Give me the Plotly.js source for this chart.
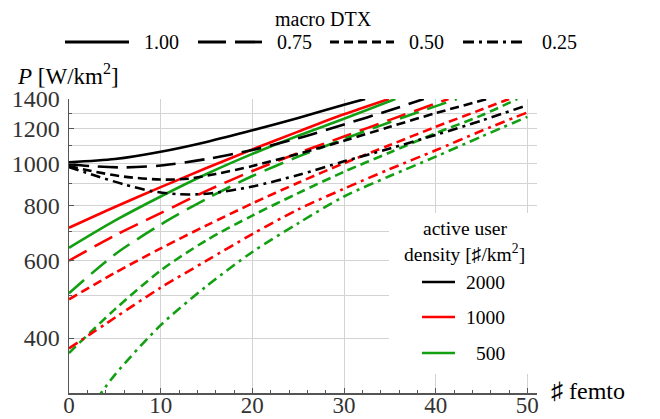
<!DOCTYPE html>
<html>
<head>
<meta charset="utf-8">
<script src="https://cdn.plot.ly/plotly-3.0.1.min.js"></script>
<style>html,body{margin:0;padding:0;background:#fff;}#chart{width:660px;height:419px;}</style>
</head>
<body>
<div id="chart"></div>
<script>
// ---- data ----
// macro DTX = 1.00 (solid)
const x_100_2000 = [0, 5, 10, 15, 20, 25, 30, 32.3];
const y_100_2000 = [1005, 1022, 1062, 1118, 1188, 1268, 1358, 1400];
const x_100_1000 = [0, 5, 10, 15, 20, 25, 30, 34.9];
const y_100_1000 = [713, 795, 882, 975, 1075, 1180, 1292, 1400];
const x_100_500  = [0, 5, 10, 15, 20, 25, 30, 35.6];
const y_100_500  = [642, 740, 840, 945, 1050, 1155, 1262, 1400];
// macro DTX = 0.75 (long dash)
const x_075_2000 = [0, 3, 6, 10, 15, 20, 25, 30, 35, 38.7];
const y_075_2000 = [995, 983, 978, 988, 1022, 1072, 1140, 1225, 1320, 1400];
const x_075_1000 = [0, 5, 10, 15, 20, 25, 30, 35, 41.4];
const y_075_1000 = [600, 685, 770, 865, 960, 1055, 1150, 1255, 1400];
const x_075_500  = [0, 5, 10, 15, 20, 25, 30, 35, 42.3];
const y_075_500  = [506, 620, 725, 830, 935, 1035, 1135, 1240, 1400];
// macro DTX = 0.50 (dash)
const x_050_2000 = [0, 3, 6, 10, 13, 16, 20, 25, 30, 35, 40, 45.6];
const y_050_2000 = [985, 955, 932, 918, 922, 945, 985, 1050, 1125, 1210, 1300, 1400];
const x_050_1000 = [0, 5, 10, 15, 20, 25, 30, 35, 40, 45, 48];
const y_050_1000 = [490, 563, 640, 722, 810, 903, 1000, 1100, 1210, 1325, 1400];
const x_050_500  = [0, 5, 10, 15, 20, 25, 30, 35, 40, 45, 48.9];
const y_050_500  = [370, 465, 570, 668, 760, 855, 956, 1058, 1170, 1285, 1400];
// macro DTX = 0.25 (dash-dot)
const x_025_2000 = [0, 3, 6, 9, 12, 15, 20, 25, 30, 35, 40, 45, 50];
const y_025_2000 = [980, 935, 895, 864, 850, 852, 885, 940, 1010, 1080, 1160, 1250, 1356];
const x_025_1000 = [0, 5, 10, 15, 20, 25, 30, 35, 40, 45, 50];
const y_025_1000 = [379, 445, 521, 600, 690, 785, 875, 970, 1070, 1185, 1305];
const x_025_500  = [3, 5, 10, 15, 20, 25, 30, 35, 40, 45, 50];
const y_025_500  = [290, 330, 428, 525, 628, 730, 840, 935, 1035, 1150, 1275];

const dtxLabels = ['1.00', '0.75', '0.50', '0.25'];
const densityLabels = ['2000', '1000', '500'];
const yTickVals = [400, 600, 800, 1000, 1200, 1400];
const yTickText = ['400', '600', '800', '1000', '1200', '1400'];
const yMinorVals = [300, 500, 700, 900, 1100, 1300];

// ---- styles ----
const FONT = '"Liberation Serif", "Times New Roman", Times, serif';
const COLORS = {'2000': '#000000', '1000': '#ff0000', '500': '#12a012'};
const DASHES = {'1.00': 'solid', '0.75': '20px,9px', '0.50': '9px,5px', '0.25': '10px,5px,3px,5px'};

const series = [
  ['1.00', '2000', x_100_2000, y_100_2000], ['1.00', '1000', x_100_1000, y_100_1000], ['1.00', '500', x_100_500, y_100_500],
  ['0.75', '2000', x_075_2000, y_075_2000], ['0.75', '1000', x_075_1000, y_075_1000], ['0.75', '500', x_075_500, y_075_500],
  ['0.50', '2000', x_050_2000, y_050_2000], ['0.50', '1000', x_050_1000, y_050_1000], ['0.50', '500', x_050_500, y_050_500],
  ['0.25', '2000', x_025_2000, y_025_2000], ['0.25', '1000', x_025_1000, y_025_1000], ['0.25', '500', x_025_500, y_025_500]
];

const traces = series.map(([dtx, dens, xs, ys]) => ({
  type: 'scatter', mode: 'lines', x: xs, y: ys,
  name: 'DTX ' + dtx + ', ' + dens,
  line: {color: COLORS[dens], width: 2.6, dash: DASHES[dtx], shape: 'spline', smoothing: 0.8},
  showlegend: false, hoverinfo: 'skip'
}));

// pixel -> paper helpers for legend layout
const L = 69, R = 537, T = 99, B = 393;
const PX = px => (px - L) / (R - L);
const PY = py => (B - py) / (B - T);

const shapes = [];
const annotations = [];

// top legend: macro DTX
annotations.push({xref: 'paper', yref: 'paper', x: PX(323.5), y: PY(19), text: 'macro DTX', showarrow: false,
  xanchor: 'center', yanchor: 'middle', font: {family: FONT, size: 20, color: '#000'}});
const dtxSampleX = [65, 198, 330, 463];
const dtxSampleDash = ['solid', '28px,9px', '9px,5px', '11px,5px,3px,5px'];
dtxLabels.forEach((lab, i) => {
  const x0 = dtxSampleX[i];
  shapes.push({type: 'line', xref: 'paper', yref: 'paper', x0: PX(x0), x1: PX(x0 + 64), y0: PY(42), y1: PY(42),
    line: {color: '#000', width: 2.8, dash: dtxSampleDash[i]}});
  annotations.push({xref: 'paper', yref: 'paper', x: PX(x0 + 77), y: PY(42.5), text: lab, showarrow: false,
    xanchor: 'left', yanchor: 'middle', font: {family: FONT, size: 20, color: '#000'}});
});

// density legend box
shapes.push({type: 'rect', xref: 'paper', yref: 'paper', x0: PX(389), x1: PX(548), y0: PY(374), y1: PY(213),
  fillcolor: '#ffffff', line: {width: 0}, layer: 'above'});
annotations.push({xref: 'paper', yref: 'paper', x: PX(465), y: PY(228), text: 'active user', showarrow: false,
  xanchor: 'center', yanchor: 'middle', font: {family: FONT, size: 19.5, color: '#000'}});
annotations.push({xref: 'paper', yref: 'paper', x: PX(464), y: PY(253), text: 'density [♯/km<sup>2</sup>]', showarrow: false,
  xanchor: 'center', yanchor: 'middle', font: {family: FONT, size: 19.5, color: '#000'}});
const densRowY = [282, 317, 353];
densityLabels.forEach((lab, i) => {
  shapes.push({type: 'line', xref: 'paper', yref: 'paper', x0: PX(422), x1: PX(455), y0: PY(densRowY[i]), y1: PY(densRowY[i]),
    line: {color: COLORS[lab], width: 2.5}, layer: 'above'});
  annotations.push({xref: 'paper', yref: 'paper', x: PX(507), y: PY(densRowY[i]), text: lab, showarrow: false,
    xanchor: 'right', yanchor: 'middle', font: {family: FONT, size: 19.5, color: '#000'}});
});

// axis titles
annotations.push({xref: 'paper', yref: 'paper', x: PX(15), y: PY(74), text: '<i>P</i> [W/km<sup>2</sup>]', showarrow: false,
  xanchor: 'left', yanchor: 'middle', font: {family: FONT, size: 23, color: '#000'}});
annotations.push({xref: 'paper', yref: 'paper', x: PX(549), y: PY(391), text: '♯ femto', showarrow: false,
  xanchor: 'left', yanchor: 'middle', font: {family: FONT, size: 24, color: '#000'}});

const layout = {
  width: 660, height: 419,
  margin: {l: L, r: 660 - R, t: T, b: 419 - B, pad: 0},
  paper_bgcolor: '#ffffff', plot_bgcolor: '#ffffff',
  showlegend: false,
  font: {family: FONT},
  xaxis: {
    range: [0, 51.05], tickmode: 'linear', tick0: 0, dtick: 10,
    ticks: 'inside', ticklen: 5, tickwidth: 1, tickcolor: '#555',
    showline: true, linecolor: '#555', linewidth: 1.5,
    showgrid: true, gridcolor: '#d3d3d3', gridwidth: 1, zeroline: false,
    tickfont: {family: FONT, size: 23, color: '#333'},
    ticklabelstandoff: -9,
    minor: {tick0: 0, dtick: 2, ticks: 'inside', ticklen: 3, tickcolor: '#555', showgrid: false}
  },
  yaxis: {
    type: 'log', range: [Math.log10(300), Math.log10(1400)],
    tickmode: 'array', tickvals: yTickVals, ticktext: yTickText,
    ticks: 'inside', ticklen: 5, tickwidth: 1, tickcolor: '#555',
    showline: true, linecolor: '#555', linewidth: 1.5,
    showgrid: true, gridcolor: '#d3d3d3', gridwidth: 1, zeroline: false,
    tickfont: {family: FONT, size: 24, color: '#333'},
    ticklabelstandoff: 3,
    minor: {tickmode: 'array', tickvals: yMinorVals, ticks: 'inside', ticklen: 3, tickcolor: '#555',
            showgrid: true, gridcolor: '#d3d3d3', gridwidth: 1}
  },
  shapes: shapes,
  annotations: annotations
};

Plotly.newPlot('chart', traces, layout, {staticPlot: true, displayModeBar: false});
</script>
</body>
</html>
